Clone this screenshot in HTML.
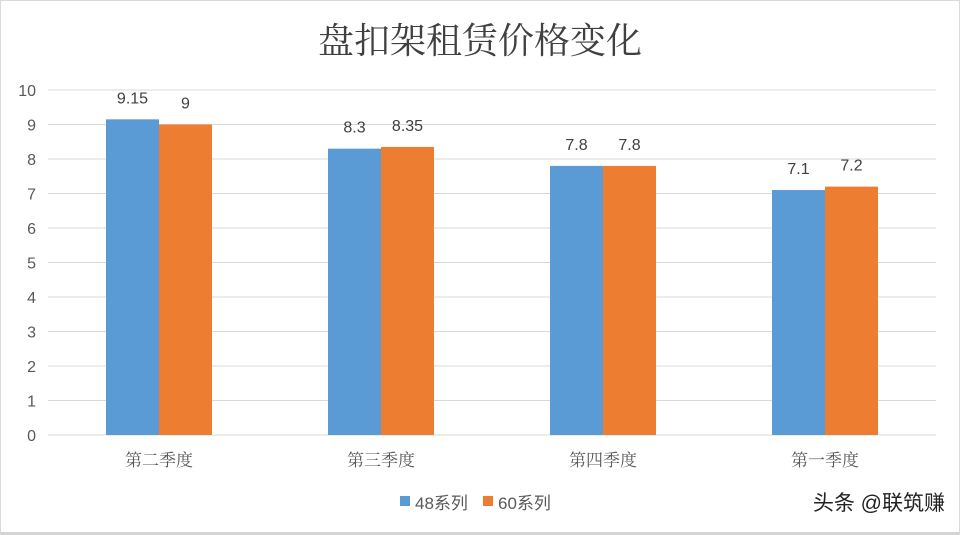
<!DOCTYPE html>
<html><head><meta charset="utf-8"><style>
html,body{margin:0;padding:0;background:#fff;}
svg{display:block;font-family:"Liberation Sans","Noto Sans CJK SC",sans-serif;}
</style></head><body>
<svg id="c" width="960" height="535" viewBox="0 0 960 535">
<rect x="0.5" y="0.5" width="959" height="532" fill="#fff" stroke="#d9d9d9"/>
<rect x="0" y="532" width="960" height="3" fill="#d4d4d4"/>
<text x="480" y="53" text-anchor="middle" font-size="36" fill="#404040" font-family="'Liberation Serif','Noto Serif CJK SC',serif">盘扣架租赁价格变化</text>
<g id="grid"></g><g id="bars"></g><g id="labels"></g>
<g>
<rect x="400" y="496" width="10" height="10" fill="#5b9bd5"/>
<text x="415" y="509" font-size="17" fill="#595959">48系列</text>
<rect x="483" y="496" width="10" height="10" fill="#ed7d31"/>
<text x="498" y="509" font-size="17" fill="#595959">60系列</text>
</g>
<text x="945" y="510" text-anchor="end" font-size="21" fill="#222">头条 @联筑赚</text>
</svg>
<script>
const categories=["第二季度","第三季度","第四季度","第一季度"];
const series48=[9.15,8.3,7.8,7.1];
const series60=[9,8.35,7.8,7.2];
const yTicks=[0,1,2,3,4,5,6,7,8,9,10];
const NS="http://www.w3.org/2000/svg";
const x0=48,x1=936,y0=435,y1=90,yMax=10;
const band=(x1-x0)/categories.length;
const y=v=>y0-(v/yMax)*(y0-y1);
const xc=i=>x0+band*(i+0.5);
function mk(t,a,p){const e=document.createElementNS(NS,t);for(const k in a)e.setAttribute(k,a[k]);p.appendChild(e);return e;}
const grid=document.getElementById('grid'),bars=document.getElementById('bars'),labels=document.getElementById('labels');
yTicks.forEach(t=>{
 const l=mk('line',{x1:x0,x2:x1,y1:y(t),y2:y(t),stroke:'#d9d9d9','stroke-width':1},grid);
 
 
 const tx=mk('text',{x:36,y:y(t)+6,'text-anchor':'end','font-size':16,fill:'#595959'},grid);
 tx.textContent=t;
 
 
});
const bw=53;
categories.forEach((c,i)=>{
 [[series48,'#5b9bd5',-bw,'48'],[series60,'#ed7d31',0,'60']].forEach(([s,col,off,nm])=>{
  const r=mk('rect',{x:xc(i)+off,y:y(s[i]),width:bw,height:y0-y(s[i]),fill:col},bars);
  
  
  const t=mk('text',{x:xc(i)+off+bw/2,y:y(s[i])-16,'text-anchor':'middle','font-size':16,fill:'#404040'},labels);
  t.textContent=s[i];
  
  
 });
 const ct=mk('text',{x:xc(i),y:466,'text-anchor':'middle','font-size':17,fill:'#595959','font-family':"'Liberation Serif','Noto Serif CJK SC',serif"},labels);
 ct.textContent=c;
 
 
});
</script>
</body></html>
